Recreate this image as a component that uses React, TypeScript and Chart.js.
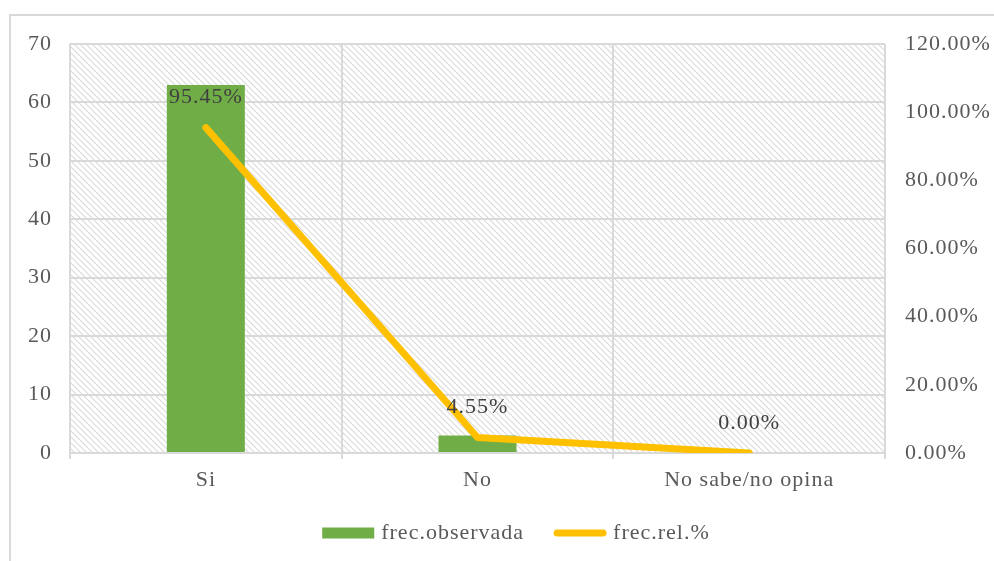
import React, { useEffect, useRef } from "react";
import { Chart, registerables } from "chart.js";

Chart.register(...registerables);

const categories = ["Si", "No", "No sabe/no opina"];
const observedCounts = [63, 3, 0];
const relativePercent = [95.45, 4.55, 0.0];
const countAxis = { min: 0, max: 70, step: 10 };
const percentAxis = { min: 0, max: 120, step: 20 };
const seriesNames = ["frec.observada", "frec.rel.%"];

const GREEN = "#70AD47";
const YELLOW = "#FFC000";
const GRID = "#d9d9d9";
const TEXT = "#595959";
const FONT_FAMILY = "'Liberation Serif', 'Times New Roman', serif";

function makeHatch(ctx: CanvasRenderingContext2D): CanvasPattern | string {
  const tile = document.createElement("canvas");
  const s = 6;
  tile.width = s;
  tile.height = s;
  const t = tile.getContext("2d");
  if (!t) return "#ffffff";
  t.fillStyle = "#ffffff";
  t.fillRect(0, 0, s, s);
  t.strokeStyle = "#dadada";
  t.lineWidth = 1.2;
  t.beginPath();
  t.moveTo(-1, -1);
  t.lineTo(s + 1, s + 1);
  t.moveTo(-1, s - 1);
  t.lineTo(1, s + 1);
  t.moveTo(s - 1, -1);
  t.lineTo(s + 1, 1);
  t.stroke();
  return ctx.createPattern(tile, "repeat") || "#ffffff";
}

const spacingPlugin = {
  id: "letterSpacing",
  beforeUpdate(chart: any) {
    chart.ctx.letterSpacing = "1px";
  },
  beforeDraw(chart: any) {
    chart.ctx.letterSpacing = "1px";
  },
};

const backgroundPlugin = {
  id: "plotBackground",
  beforeDraw(chart: any) {
    const { ctx, chartArea } = chart;
    ctx.save();
    // outer frame
    ctx.strokeStyle = GRID;
    ctx.lineWidth = 2;
    ctx.strokeRect(10, 15, chart.width + 20, chart.height + 20);
    // hatched plot area
    ctx.fillStyle = makeHatch(ctx);
    ctx.fillRect(
      chartArea.left,
      chartArea.top,
      chartArea.right - chartArea.left,
      chartArea.bottom - chartArea.top
    );
    ctx.restore();
  },
};

const labelsPlugin = {
  id: "valueLabels",
  afterDatasetsDraw(chart: any) {
    const { ctx } = chart;
    const meta = chart.getDatasetMeta(1);
    ctx.save();
    ctx.letterSpacing = "1px";
    ctx.font = `22px ${FONT_FAMILY}`;
    ctx.fillStyle = "#404040";
    ctx.textAlign = "center";
    ctx.textBaseline = "middle";
    meta.data.forEach((pt: any, i: number) => {
      ctx.fillText(relativePercent[i].toFixed(2) + "%", pt.x, pt.y - 30);
    });
    ctx.restore();
  },
};

const legendPlugin = {
  id: "bottomLegend",
  afterDraw(chart: any) {
    const { ctx } = chart;
    ctx.save();
    ctx.letterSpacing = "1px";
    ctx.font = `22px ${FONT_FAMILY}`;
    ctx.fillStyle = TEXT;
    ctx.textBaseline = "middle";
    const y = 533;
    const w0 = ctx.measureText(seriesNames[0]).width;
    const w1 = ctx.measureText(seriesNames[1]).width;
    const symW = 52;
    const gap = 7;
    const between = 30;
    const total = symW + gap + w0 + between + symW + gap + w1;
    let x = 516 - total / 2;
    ctx.fillStyle = GREEN;
    ctx.fillRect(x, y - 5.5, symW, 11);
    x += symW + gap;
    ctx.fillStyle = TEXT;
    ctx.fillText(seriesNames[0], x, y);
    x += w0 + between;
    ctx.strokeStyle = YELLOW;
    ctx.lineWidth = 7;
    ctx.lineCap = "round";
    ctx.beginPath();
    ctx.moveTo(x + 3, y);
    ctx.lineTo(x + symW - 3, y);
    ctx.stroke();
    x += symW + gap;
    ctx.fillText(seriesNames[1], x, y);
    ctx.restore();
  },
};

export default function App() {
  const canvasRef = useRef<HTMLCanvasElement | null>(null);

  useEffect(() => {
    const canvas = canvasRef.current;
    if (!canvas) return;
    const font = { family: FONT_FAMILY, size: 22 };
    const chart = new Chart(canvas, {
      type: "bar",
      data: {
        labels: categories,
        datasets: [
          {
            type: "bar",
            label: seriesNames[0],
            data: observedCounts,
            backgroundColor: GREEN,
            borderWidth: 0,
            barPercentage: 0.287,
            categoryPercentage: 1,
            yAxisID: "y",
            order: 2,
          },
          {
            type: "line",
            label: seriesNames[1],
            data: relativePercent,
            borderColor: YELLOW,
            backgroundColor: YELLOW,
            borderWidth: 7,
            borderCapStyle: "round",
            borderJoinStyle: "round",
            pointRadius: 0,
            tension: 0,
            yAxisID: "y1",
            order: 1,
          },
        ] as any,
      },
      options: {
        responsive: false,
        animation: false,
        devicePixelRatio: 1,
        layout: { padding: { top: 44, left: 0, right: 0, bottom: 0 } },
        plugins: {
          legend: { display: false },
          tooltip: { enabled: false },
        },
        scales: {
          x: {
            offset: true,
            grid: {
              display: true,
              offset: true,
              color: GRID,
              lineWidth: 2,
              drawTicks: true,
              tickLength: 6,
            },
            border: { display: true, color: GRID, width: 2 },
            ticks: { color: TEXT, font, padding: 8, maxRotation: 0 },
            afterFit(scale: any) {
              scale.height = 108;
            },
          },
          y: {
            position: "left",
            min: countAxis.min,
            max: countAxis.max,
            ticks: { stepSize: countAxis.step, color: TEXT, font, padding: 18 },
            grid: { color: GRID, lineWidth: 2, drawTicks: false },
            border: { display: false },
            afterFit(scale: any) {
              scale.width = 70;
            },
          },
          y1: {
            position: "right",
            min: percentAxis.min,
            max: percentAxis.max,
            ticks: {
              stepSize: percentAxis.step,
              color: TEXT,
              font,
              padding: 20,
              callback: (v: any) => Number(v).toFixed(2) + "%",
            },
            grid: { display: false, drawTicks: false },
            border: { display: false },
            afterFit(scale: any) {
              scale.width = 109;
            },
          },
        },
      } as any,
      plugins: [spacingPlugin, backgroundPlugin, labelsPlugin, legendPlugin],
    });
    return () => chart.destroy();
  }, []);

  return (
    <div style={{ position: "absolute", left: 0, top: 0, width: 994, height: 561, background: "#fff" }}>
      <canvas ref={canvasRef} width={994} height={561} style={{ display: "block" }} />
    </div>
  );
}
